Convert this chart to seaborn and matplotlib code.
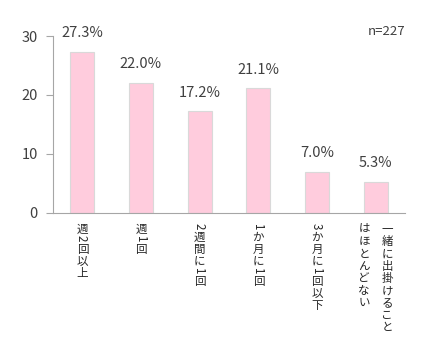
import matplotlib
matplotlib.use("Agg")
import matplotlib.pyplot as plt
import matplotlib.transforms as mtransforms
import seaborn as sns
import pandas as pd

categories = ["週2回以上", "週1回", "2週間に1回", "1か月に1回", "3か月に1回以下", "一緒に出掛けること\nはほとんどない"]
values = [27.3, 22.0, 17.2, 21.1, 7.0, 5.3]
value_labels = ["27.3%", "22.0%", "17.2%", "21.1%", "7.0%", "5.3%"]
y_ticks = [0, 10, 20, 30]
note = "n=227"

sns.set_theme(style="white")
plt.rcParams['font.family'] = ['Noto Sans CJK JP', 'DejaVu Sans']

df = pd.DataFrame({"cat": categories, "val": values})

fig = plt.figure(figsize=(4.45, 3.53), dpi=100)
ax = fig.add_axes([0.119, 0.397, 0.791, 0.501])

sns.barplot(data=df, x="cat", y="val", ax=ax, color="#FFCCDD", width=0.41,
            edgecolor="#D9D9D9", linewidth=0.8, saturation=1)

ax.set_ylim(0, 30)
ax.set_xlim(-0.5, len(categories) - 0.5)
ax.set_yticks(y_ticks)
ax.set_yticklabels([str(t) for t in y_ticks], fontsize=10.5, color="#404040")
ax.set_xlabel("")
ax.set_ylabel("")
ax.set_xticks(range(len(categories)))
ax.set_xticklabels([""] * len(categories))
ax.set_xticks([i - 0.5 for i in range(len(categories) + 1)], minor=True)
ax.tick_params(axis="x", which="major", length=0)
ax.tick_params(axis="x", which="minor", length=5, color="#A6A6A6", width=0.8, direction="out")
ax.tick_params(axis="y", length=5, color="#A6A6A6", width=0.8, direction="out", left=True, pad=6)

for s in ["top", "right"]:
    ax.spines[s].set_visible(False)
for s in ["left", "bottom"]:
    ax.spines[s].set_color("#A6A6A6")
    ax.spines[s].set_linewidth(0.8)

for i, (v, lab) in enumerate(zip(values, value_labels)):
    ax.annotate(lab, (i, v), xytext=(0, 8.5), textcoords="offset points",
                ha="center", va="bottom", fontsize=10.5, color="#404040")

# vertical (tategaki) tick labels: upright kana/kanji, sideways digits
fs = 8.3
trans = mtransforms.blended_transform_factory(ax.transData, ax.transAxes)
for i, cat in enumerate(categories):
    cols = cat.split("\n")
    n = len(cols)
    for j, col in enumerate(cols):
        xo = ((n - 1) / 2 - j) * 16.5
        yo = -7.0
        for ch in col:
            if ch.isascii():
                adv = 5.4
                ax.annotate(ch, (i, 0), xycoords=trans,
                            xytext=(xo - 0.6, yo - adv / 2), textcoords="offset points",
                            ha="center", va="center", rotation=-90,
                            fontsize=fs, color="#262626")
            else:
                adv = 8.8
                ax.annotate(ch, (i, 0), xycoords=trans,
                            xytext=(xo, yo - adv / 2 - 0.38 * fs), textcoords="offset points",
                            ha="center", va="baseline",
                            fontsize=fs, color="#262626")
            yo -= adv

ax.text(1.0, 1.028, note, transform=ax.transAxes, ha="right", va="center",
        fontsize=9.5, color="#404040")

fig.savefig("out.png", dpi=100)
